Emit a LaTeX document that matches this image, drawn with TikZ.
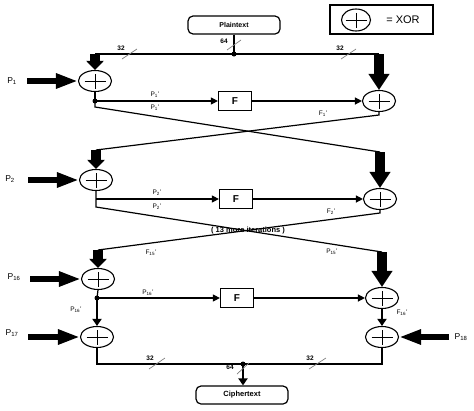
\documentclass[tikz,border=0pt]{standalone}
\usepackage{fontspec}
\setmainfont{Liberation Sans}
\usetikzlibrary{arrows.meta,shapes.geometric,calc}
\begin{document}
\begin{tikzpicture}[x=1pt,y=-1pt,
  thinline/.style={line width=1.2pt},
  xor/.style={draw, ellipse, line width=1.1pt, minimum width=33pt, minimum height=21pt, inner sep=0pt,
    path picture={\draw[line width=0.9pt] ($(path picture bounding box.center)+(-10.5pt,0pt)$) -- ++(21pt,0pt);
                  \draw[line width=0.9pt] ($(path picture bounding box.center)+(0pt,-7.5pt)$) -- ++(0pt,15pt);}},
  fbox/.style={draw, line width=1.2pt, minimum width=33pt, minimum height=19pt, inner sep=0pt, font=\fontsize{10}{10}\selectfont\bfseries},
  tbox/.style={draw, line width=1.2pt, rounded corners=5pt, minimum width=92pt, minimum height=18pt, inner sep=0pt},
  dot/.style={circle, fill, inner sep=0pt, minimum size=5pt},
  lbl/.style={font=\fontsize{6.5}{6.5}\selectfont, inner sep=0pt},
  plbl/.style={font=\fontsize{8.5}{8.5}\selectfont, inner sep=0pt},
  nlbl/.style={font=\fontsize{6.5}{6.5}\selectfont\bfseries, inner sep=0pt},
  bigL/.style={line width=10pt, -{Triangle[width=17pt,length=9pt]}},
  bigR/.style={line width=10pt, -{Triangle[width=20pt,length=16pt]}},
  bigH/.style={line width=6pt, -{Triangle[width=14pt,length=22pt]}},
  midV/.style={line width=2.5pt, -{Triangle[width=9pt,length=7pt]}},
  sarr/.style={line width=1.2pt, -{Triangle[width=7pt,length=7pt]}},
  slash/.style={line width=0.7pt, gray},
]
\useasboundingbox (0,0) rectangle (474,410);

% legend
\node[draw, line width=2pt, minimum width=103pt, minimum height=29pt] (leg) at (381.5,19.5) {};
\node[xor, minimum width=29pt, minimum height=22pt] (lx) at (356,20) {};
\node[font=\fontsize{11}{11}\selectfont, inner sep=0pt] (lt) at (403,20) {= XOR};

% top
\node[tbox, font=\fontsize{7}{7}\selectfont\bfseries] (pt) at (234,25) {Plaintext};
\node[dot] (d0) at (234,54) {};
\coordinate (tl) at (95,54);
\coordinate (tr) at (379,54);
\node[nlbl] (n64a) at (224,41) {64};
\node[nlbl] (n32a) at (121,48) {32};
\node[nlbl] (n32b) at (340,48) {32};
\draw[thinline] (pt.south) -- (d0.center);
\draw[thinline] (tl) -- (tr);
\draw[slash] (227,50) -- (241,40);
\draw[slash] (122,59) -- (137,49);
\draw[slash] (341,59) -- (356,49);

% round 1
\node[xor] (xl1) at (95,81) {};
\node[xor] (xr1) at (379,101) {};
\draw[bigL] (tl) -- (xl1.north);
\draw[bigR] (tr) -- (xr1.north);
\node[plbl] (p1) at (12,81) {P\textsubscript{1}};
\coordinate (p1s) at (27,81);
\draw[bigH] (p1s) -- (xl1.west);
\node[dot] (dl1) at (95,101) {};
\node[fbox] (f1) at (235,101) {F};
\draw[thinline] (xl1.south) -- (dl1.center);
\draw[sarr] (dl1.center) -- (f1.west);
\draw[sarr] (f1.east) -- (xr1.west);
\coordinate (cl1) at (95,107);
\coordinate (cr1) at (379,115);
\coordinate (al2) at (96,150);
\coordinate (ar2) at (380,152);
\draw[thinline] (dl1.center) -- (cl1) -- (ar2);
\draw[thinline] (xr1.south) -- (cr1) -- (al2);
\node[lbl] (lp1a) at (155,95) {P\textsubscript{1}'};
\node[lbl] (lp1b) at (155,108) {P\textsubscript{1}'};
\node[lbl] (lf1) at (323,114) {F\textsubscript{1}'};

% round 2
\node[xor] (xl2) at (96,180) {};
\node[xor] (xr2) at (380,199) {};
\draw[bigL] (al2) -- (xl2.north);
\draw[bigR] (ar2) -- (xr2.north);
\node[plbl] (p2) at (10,179) {P\textsubscript{2}};
\coordinate (p2s) at (28,180);
\draw[bigH] (p2s) -- (xl2.west);
\coordinate (bl2) at (96,199);
\coordinate (cl2) at (96,207);
\node[fbox] (f2) at (236,199) {F};
\coordinate (cr2) at (380,213);
\coordinate (al16) at (98,250);
\coordinate (ar16) at (382,252);
\draw[thinline] (xl2.south) -- (cl2) -- (ar16);
\draw[sarr] (bl2) -- (f2.west);
\draw[sarr] (f2.east) -- (xr2.west);
\draw[thinline] (xr2.south) -- (cr2) -- (al16);
\node[lbl] (lp2a) at (157,193) {P\textsubscript{2}'};
\node[lbl] (lp2b) at (157,207) {P\textsubscript{2}'};
\node[lbl] (lf2) at (331,212) {F\textsubscript{2}'};
\node[font=\fontsize{7.5}{7.5}\selectfont\bfseries, inner sep=0pt] (iter) at (248,231) {( 13 more iterations )};
\node[lbl] (lf15) at (151,253) {F\textsubscript{15}'};
\node[lbl] (lp15) at (332,252) {P\textsubscript{15}'};

% round 16
\node[xor] (xl16) at (98,279) {};
\node[xor] (xr16) at (382,298) {};
\draw[bigL] (al16) -- (xl16.north);
\draw[bigR] (ar16) -- (xr16.north);
\node[plbl] (p16) at (14,277) {P\textsubscript{16}};
\coordinate (p16s) at (30,279);
\draw[bigH] (p16s) -- (xl16.west);
\node[dot] (dl16) at (97,298) {};
\node[fbox] (f3) at (237,298) {F};
\draw[thinline] (xl16.south) -- (dl16.center);
\draw[sarr] (dl16.center) -- (f3.west);
\draw[sarr] (f3.east) -- (xr16.west);
\node[lbl] (lp16a) at (148,293) {P\textsubscript{16}'};
\node[lbl] (lp16b) at (76,310) {P\textsubscript{16}'};
\node[lbl] (lf16) at (402,313) {F\textsubscript{16}'};

% round 17
\node[xor] (xl17) at (97,337) {};
\node[xor] (xr17) at (382,337) {};
\draw[midV] (dl16.center) -- (xl17.north);
\draw[midV] (xr16.south) -- (xr17.north);
\node[plbl] (p17) at (12,333) {P\textsubscript{17}};
\coordinate (p17s) at (28,337);
\draw[bigH] (p17s) -- (xl17.west);
\node[plbl] (p18) at (461,337) {P\textsubscript{18}};
\coordinate (p18s) at (449,337);
\draw[bigH] (p18s) -- (xr17.east);

% bottom
\coordinate (bl) at (97,364);
\coordinate (br) at (382,364);
\node[dot] (d1) at (243,364) {};
\node[tbox, font=\fontsize{7.5}{7.5}\selectfont\bfseries] (ct) at (242,395) {Ciphertext};
\draw[thinline] (xl17.south) -- (bl) -- (br) -- (xr17.south);
\draw[midV] (d1.center) -- (ct.north -| d1.center);
\node[nlbl] (n32c) at (150,358) {32};
\node[nlbl] (n32d) at (310,358) {32};
\node[nlbl] (n64b) at (230,367) {64};
\draw[slash] (149,369) -- (165,358);
\draw[slash] (309,369) -- (326,358);
\draw[slash] (237,374) -- (249,363);
\end{tikzpicture}
\end{document}
